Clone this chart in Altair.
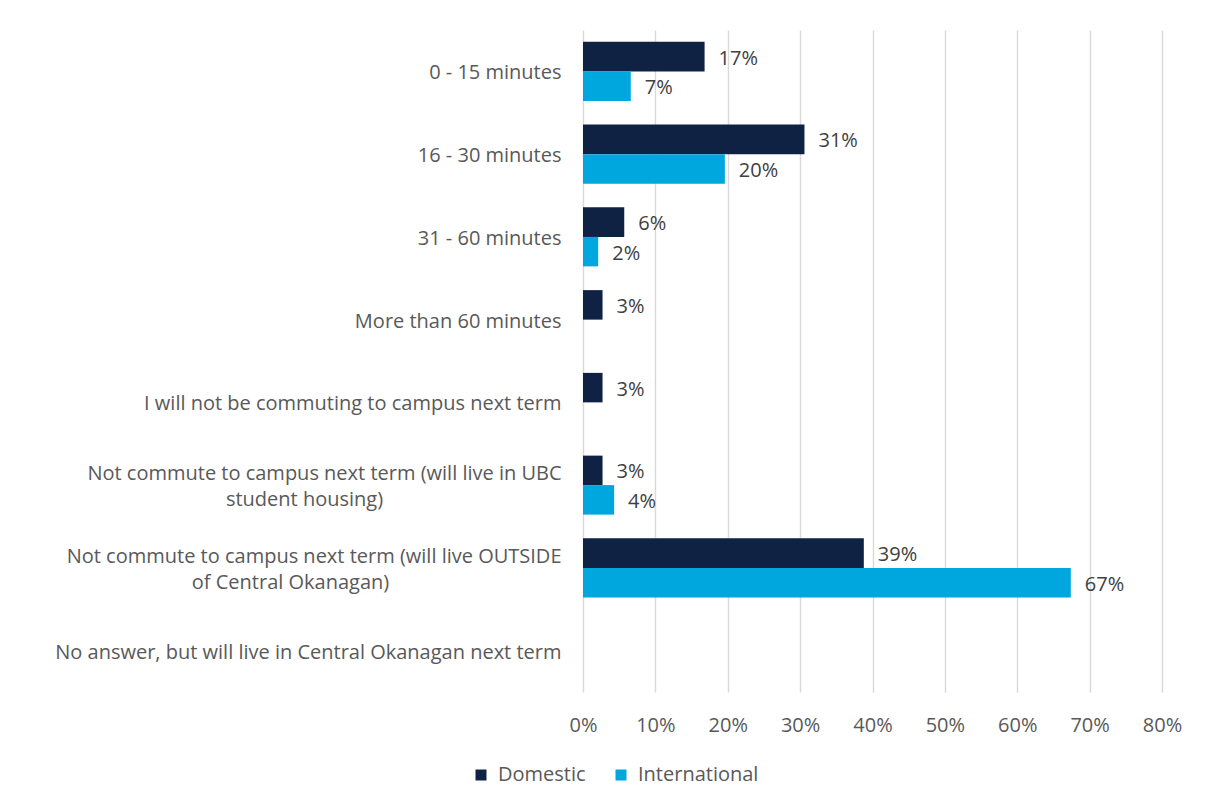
import json
import altair as alt
import pandas as pd

categories = [
    "0 - 15 minutes",
    "16 - 30 minutes",
    "31 - 60 minutes",
    "More than 60 minutes",
    "I will not be commuting to campus next term",
    "Not commute to campus next term (will live in UBC student housing)",
    "Not commute to campus next term (will live OUTSIDE of Central Okanagan)",
    "No answer, but will live in Central Okanagan next term",
]
label_line1 = [
    "0 - 15 minutes",
    "16 - 30 minutes",
    "31 - 60 minutes",
    "More than 60 minutes",
    "I will not be commuting to campus next term",
    "Not commute to campus next term (will live in UBC",
    "Not commute to campus next term (will live OUTSIDE",
    "No answer, but will live in Central Okanagan next term",
]
label_line2 = ["", "", "", "", "", "student housing)", "of Central Okanagan)", ""]

series = ["Domestic", "International"]
domestic = [16.8, 30.6, 5.7, 2.7, 2.7, 2.7, 38.8, None]
international = [6.6, 19.6, 2.1, None, None, 4.3, 67.4, None]
x_ticks = [0, 10, 20, 30, 40, 50, 60, 70, 80]

colors = ["#0f2244", "#00a6de"]
FONT = "Open Sans"
FS = 20
AXIS_GRAY = "#595959"

rows = []
for cat, d, i in zip(categories, domestic, international):
    if d is not None:
        rows.append({"cat": cat, "series": "Domestic", "value": d})
    if i is not None:
        rows.append({"cat": cat, "series": "International", "value": i})
df = pd.DataFrame(rows)
df_cats = pd.DataFrame({"cat": categories})


def chain_expr(mapping, default):
    expr = default
    for k, v in reversed(list(mapping.items())):
        expr = f"datum.value == {json.dumps(k)} ? {json.dumps(v)} : ({expr})"
    return expr


map1 = {c: l for c, l in zip(categories, label_line1) if l != c}
map2 = {c: l for c, l in zip(categories, label_line2) if l}
wrapped_test = " || ".join(f"datum.value == {json.dumps(c)}" for c in map2)
ubc_test = f"datum.value == {json.dumps(categories[5])}"

y_scale = alt.Scale(domain=categories, paddingInner=0.287, paddingOuter=0.1435)

y_axis_main = alt.Axis(
    title=None,
    domain=False,
    ticks=False,
    grid=False,
    labelFont=FONT,
    labelFontSize=FS,
    labelColor=AXIS_GRAY,
    labelLimit=700,
    labelPadding=22,
    labelAlign="right",
    labelExpr=chain_expr(map1, "datum.value"),
    labelOffset={"condition": {"test": wrapped_test, "value": -11}, "value": 2},
)

y_axis_second = alt.Axis(
    title=None,
    orient="left",
    domain=False,
    ticks=False,
    grid=False,
    labelFont=FONT,
    labelFontSize=FS,
    labelColor=AXIS_GRAY,
    labelLimit=700,
    labelAlign="center",
    labelExpr=chain_expr(map2, "''"),
    labelOffset=15,
    labelPadding={
        "condition": {"test": ubc_test, "value": 279},
        "value": 293,
    },
)

x_enc = alt.X(
    "value:Q",
    scale=alt.Scale(domain=[0, 80], nice=False),
    axis=alt.Axis(
        title=None,
        values=x_ticks,
        domain=False,
        ticks=False,
        grid=True,
        gridColor="#d9d9d9",
        gridWidth=1.4,
        labelFont=FONT,
        labelFontSize=FS,
        labelColor=AXIS_GRAY,
        labelPadding=23,
        labelFlush=False,
        labelExpr="datum.value + '%'",
    ),
)

yoff = alt.YOffset("series:N", scale=alt.Scale(domain=series, paddingInner=0, paddingOuter=0))

bars = alt.Chart(df).mark_bar().encode(
    y=alt.Y("cat:N", scale=y_scale, axis=y_axis_main, sort=categories),
    x=x_enc,
    yOffset=yoff,
    color=alt.Color(
        "series:N",
        scale=alt.Scale(domain=series, range=colors),
        legend=alt.Legend(
            title=None,
            orient="none",
            direction="horizontal",
            legendX=-112,
            legendY=735,
            symbolType="square",
            symbolSize=121,
            symbolStrokeWidth=0,
            labelFont=FONT,
            labelFontSize=FS,
            labelColor=AXIS_GRAY,
            labelOffset=7,
            columnPadding=25,
            padding=0,
        ),
    ),
)

labels = alt.Chart(df).mark_text(
    align="left", baseline="middle", dx=14, dy=2, font=FONT, fontSize=FS, color="#404040"
).encode(
    y=alt.Y("cat:N", scale=y_scale, sort=categories, axis=None),
    x=alt.X("value:Q"),
    yOffset=yoff,
    text=alt.Text("label:N"),
).transform_calculate(label="round(datum.value) + '%'")

second_axis = alt.Chart(df_cats).mark_text(text="", opacity=0).encode(
    y=alt.Y("cat:N", scale=y_scale, axis=y_axis_second, sort=categories),
)

chart = (
    alt.layer(bars, labels, second_axis)
    .resolve_axis(y="independent")
    .properties(
        width=579,
        height=662,
        padding={"left": 575, "top": 22, "right": 45, "bottom": 111},
        autosize=alt.AutoSizeParams(type="none"),
        background="white",
    )
    .configure_view(stroke=None)
)

chart.save("out.html", embed_options={"renderer": "svg", "actions": False})
